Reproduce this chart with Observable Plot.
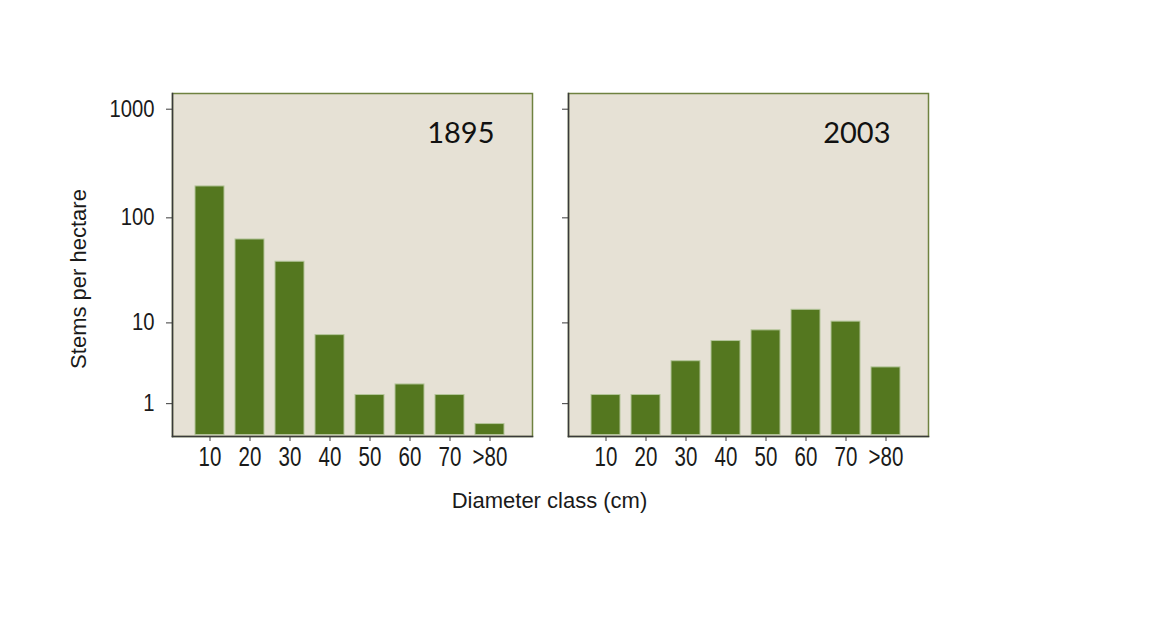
<!DOCTYPE html>
<html>
<head>
<meta charset="utf-8">
<script src="https://cdn.jsdelivr.net/npm/d3@7"></script>
<script src="https://cdn.jsdelivr.net/npm/@observablehq/plot@0.6"></script>
<style>
  html, body { margin: 0; padding: 0; background: #ffffff; }
  #wrap { position: relative; width: 1174px; height: 617px; font-family: "Liberation Sans", Arial, sans-serif; }
  #xlabel { position: absolute; left: 0; width: 1099px; top: 488px; text-align: center; font-size: 22px; color: #1a1a1a; }
</style>
</head>
<body>
<div id="wrap"></div>
<script>
// ---- data ----
const classes = ["10", "20", "30", "40", "50", "60", "70", ">80"];
const years = [1895, 2003];
const stems1895 = [195, 63, 39, 7.5, 1.4, 2.0, 1.4, 0.3];
const stems2003 = [1.4, 1.4, 3.9, 6.5, 8.4, 13.5, 10.3, 3.3];
const yTicks = [1, 10, 100, 1000];
const yTickLabels = ["1", "10", "100", "1000"];
const yLabel = "Stems per hectare";
const xLabel = "Diameter class (cm)";

const rows = [
  ...classes.map((c, i) => ({year: years[0], cls: c, value: stems1895[i]})),
  ...classes.map((c, i) => ({year: years[1], cls: c, value: stems2003[i]}))
];
const yearRows = years.map(y => ({year: y, label: String(y)}));

const chart = Plot.plot({
  width: 1174,
  height: 617,
  marginLeft: 172,
  marginRight: 245,
  marginTop: 93,
  marginBottom: 181,
  style: {fontFamily: "'Liberation Sans', Arial, sans-serif", fontSize: "21px", color: "#1a1a1a", background: "#ffffff"},
  fx: {domain: years, paddingInner: 0.09, paddingOuter: 0, axis: null},
  x: {domain: classes, paddingInner: 0.28, paddingOuter: 0.6, align: 0.45, axis: null},
  y: {type: "symlog", constant: 1, domain: [0, 1393], axis: null},
  marks: [
    Plot.frame({fill: "#e6e1d5", stroke: "#6f8240", strokeWidth: 1.5}),
    Plot.barY(rows, {fx: "year", x: "cls", y: "value", fill: "#54771f", stroke: "#b4c59a", strokeWidth: 1, insetBottom: 1.5}),
    Plot.frame({anchor: "left", stroke: "#3a3a3a", strokeWidth: 1.5}),
    Plot.frame({anchor: "bottom", stroke: "#3a3a3a", strokeWidth: 1.5}),
    Plot.axisY({ticks: yTicks, tickSize: 6, facetAnchor: null, fill: "none", stroke: "#3a3a3a", label: null}),
    Plot.axisY({ticks: yTicks, tickSize: 0, tickPadding: 18, facetAnchor: "left", label: null,
      tickFormat: d => yTickLabels[yTicks.indexOf(d)], fontSize: 23, fill: "#1a1a1a"}),
    Plot.axisX({tickSize: 5, tickPadding: 5, label: null, fontSize: 27, stroke: "#3a3a3a", fill: "#1a1a1a"}),
    Plot.text(yearRows, {fx: "year", text: "label", frameAnchor: "top-right", dx: -38, dy: 40,
      textAnchor: "end", lineAnchor: "middle", fontFamily: "Lato, 'Open Sans', sans-serif", fontSize: 29, fill: "#111111"}),
    Plot.text([yLabel], {text: d => d, frameAnchor: "left", rotate: -90, dx: -94, dy: 14, facetAnchor: "left",
      textAnchor: "middle", lineAnchor: "middle", fontSize: 22, fill: "#1a1a1a"})
  ]
});

// the reference's tick labels are horizontally condensed: squeeze them around their anchor
function squeeze(selector, sx) {
  d3.select(chart).selectAll(selector).each(function() {
    const t = this.getAttribute("transform") || "";
    this.setAttribute("transform", (t + ` scale(${sx},1)`).trim());
  });
}
squeeze('g[aria-label="x-axis tick label"] text', 0.76);
squeeze('g[aria-label="y-axis tick label"] text', 0.88);

const wrap = document.getElementById("wrap");
wrap.appendChild(chart);
const xl = document.createElement("div");
xl.id = "xlabel";
xl.textContent = xLabel;
wrap.appendChild(xl);
</script>
</body>
</html>
